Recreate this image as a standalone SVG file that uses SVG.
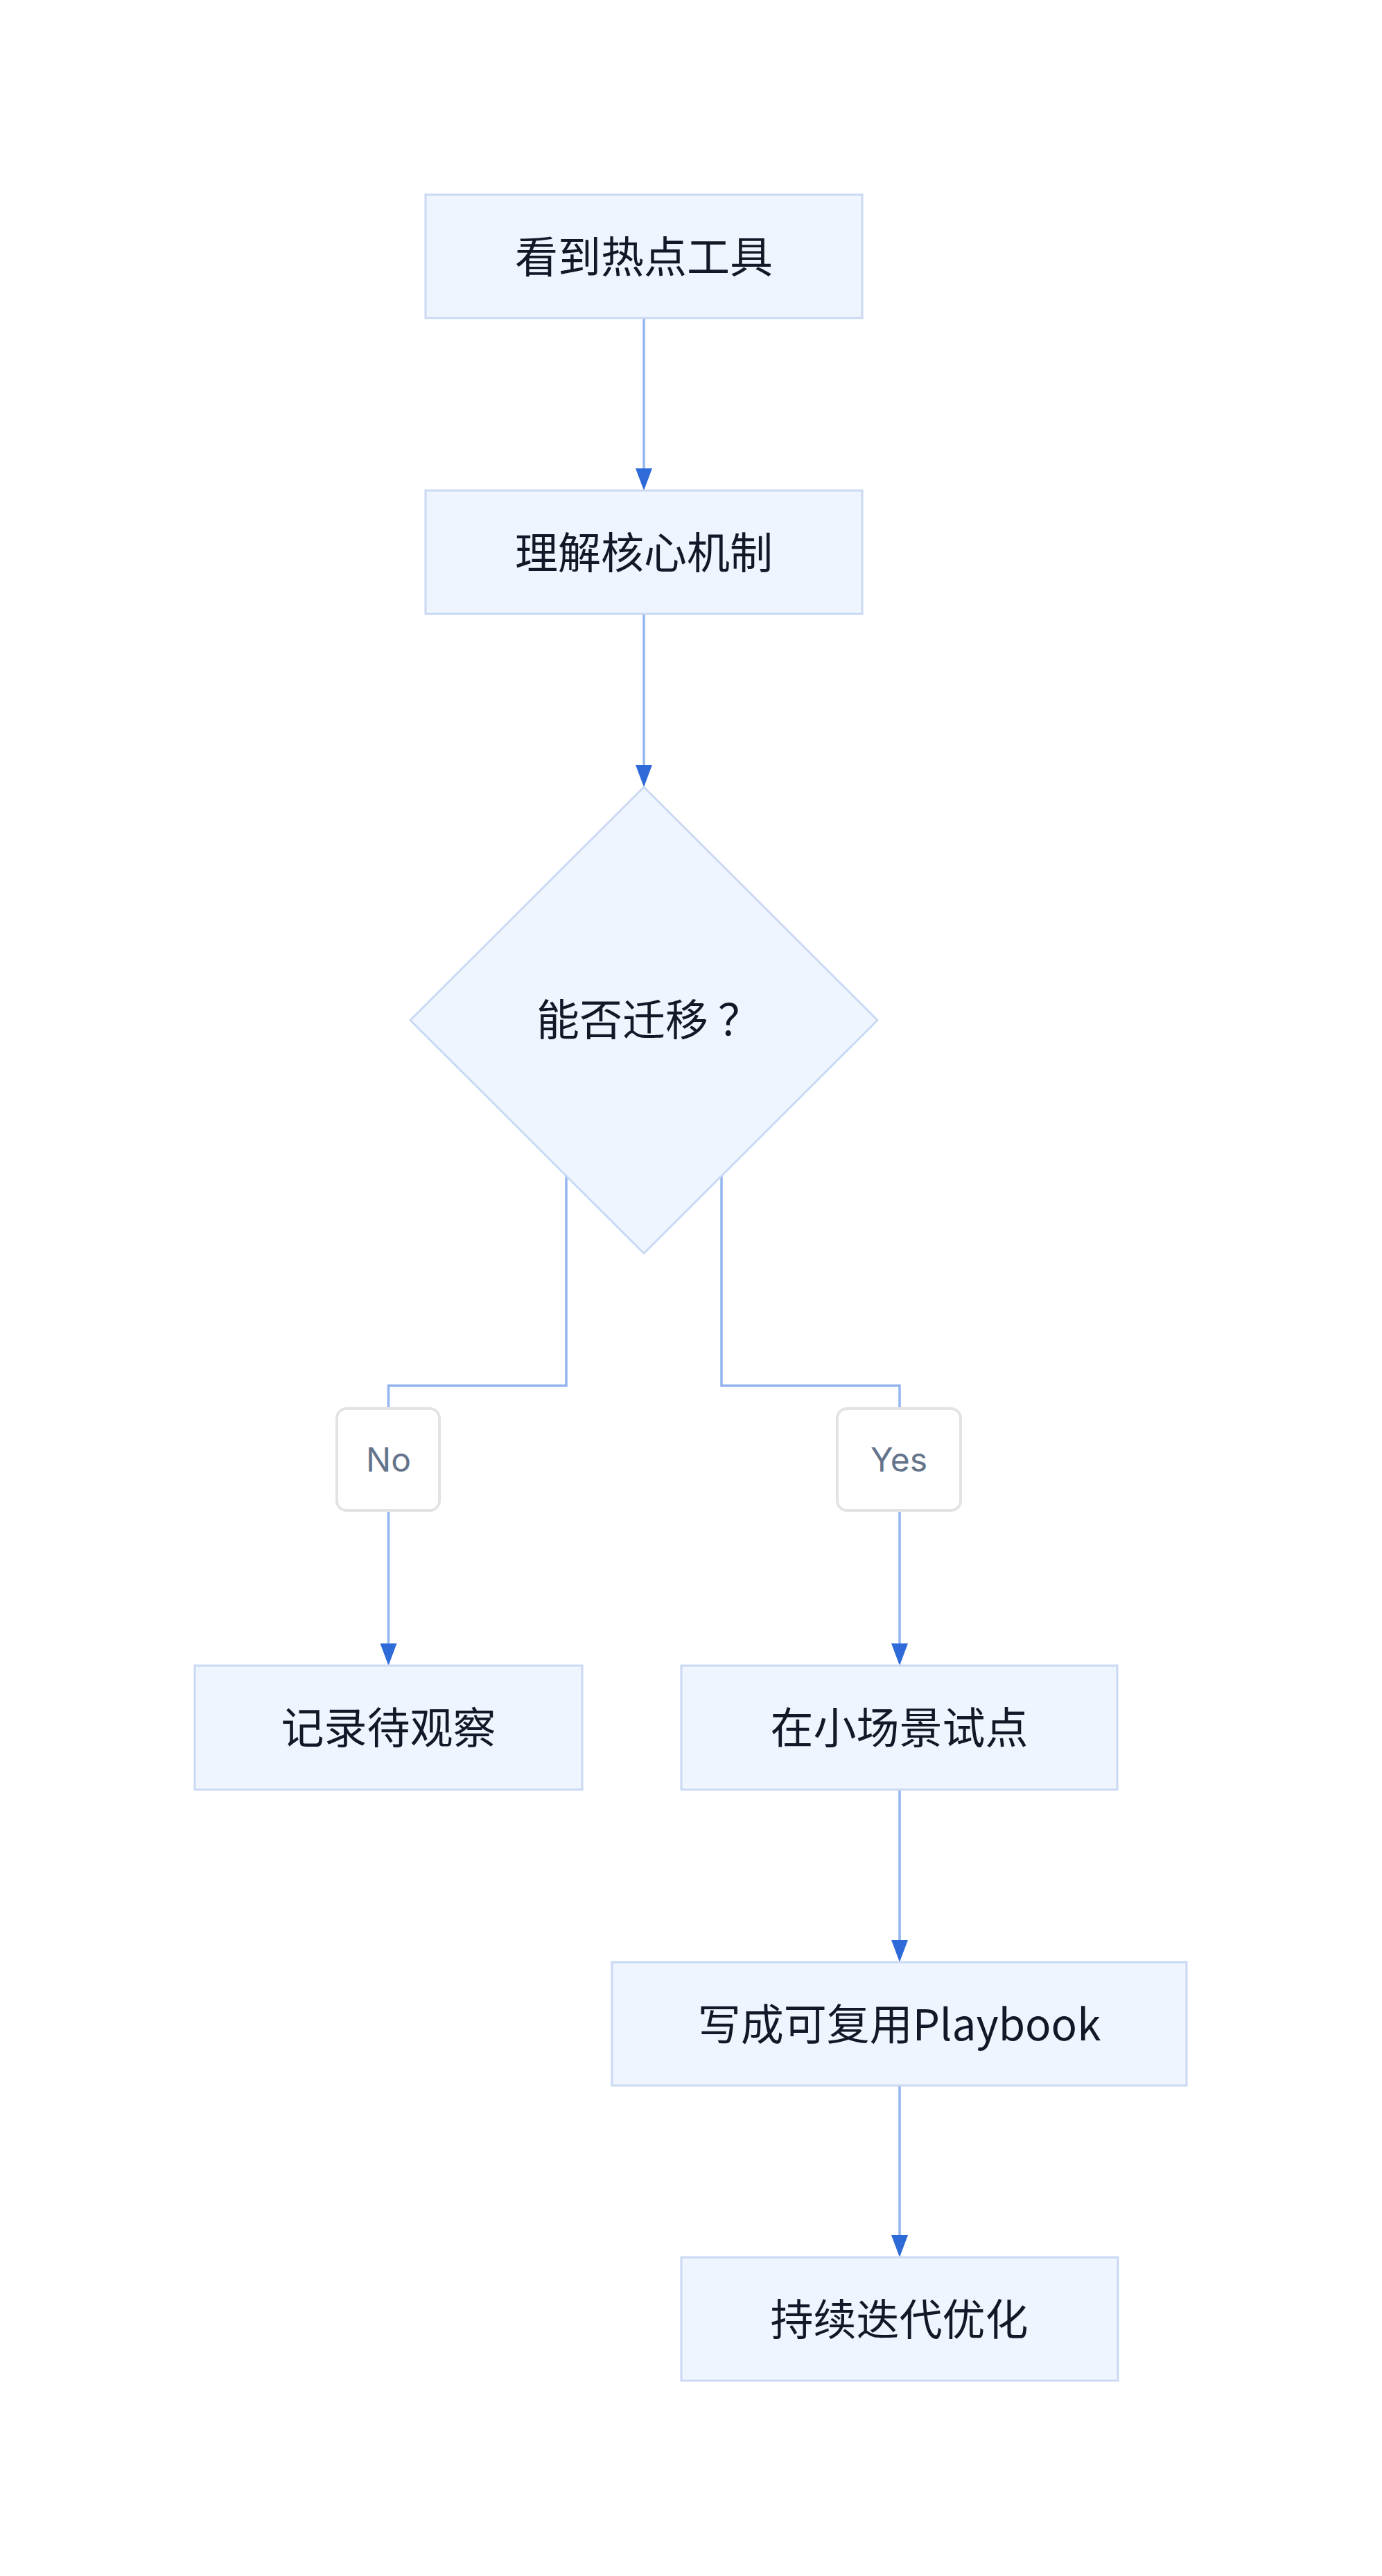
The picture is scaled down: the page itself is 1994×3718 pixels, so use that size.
<svg xmlns="http://www.w3.org/2000/svg" width="1994" height="3718" viewBox="0 0 1994 3718">
<defs>
<style>
.node rect, .node polygon { fill: #eff5fe; stroke: #cad9f3; stroke-width: 3; }
.node text { font-family: "Noto Sans CJK SC", "Inter", sans-serif; font-size: 62px; fill: #111827; text-anchor: middle; }
.edge { fill: none; stroke: #93b5ef; stroke-width: 3.5; }
.lbl rect { fill: #ffffff; stroke: #e3e3e3; stroke-width: 4; }
.lbl text { font-family: "Inter", "Liberation Sans", sans-serif; font-size: 48px; fill: #64748b; text-anchor: middle; }
</style>
<marker id="arr" viewBox="0 0 32 24" refX="0" refY="12" markerWidth="32" markerHeight="24" markerUnits="userSpaceOnUse" orient="auto">
<path d="M0,0 L32,12 L0,24 z" fill="#2f6ad9"/>
</marker>
</defs>
<rect width="1994" height="3718" fill="#ffffff"/>
<g id="connectors">
<path class="edge" d="M929 459 V676" marker-end="url(#arr)"/>
<path class="edge" d="M929 886 V1104" marker-end="url(#arr)"/>
<path class="edge" d="M817 1680 V2000 H560.5 V2372" marker-end="url(#arr)"/>
<path class="edge" d="M1041 1680 V2000 H1298 V2372" marker-end="url(#arr)"/>
<path class="edge" d="M1298 2583 V2800" marker-end="url(#arr)"/>
<path class="edge" d="M1298 3010 V3226" marker-end="url(#arr)"/>
</g>
<g id="label-no" class="lbl">
<rect x="486" y="2033" width="148" height="147" rx="14"/>
<text x="560.5" y="2124">No</text>
</g>
<g id="label-yes" class="lbl">
<rect x="1208" y="2033" width="178" height="147" rx="14"/>
<text x="1297" y="2124">Yes</text>
</g>
<g id="n1" class="node">
<rect x="614" y="281" width="630" height="178"/>
<text x="929" y="394">看到热点工具</text>
</g>
<g id="n2" class="node">
<rect x="614" y="708" width="630" height="178"/>
<text x="929" y="821">理解核心机制</text>
</g>
<g id="n3" class="node">
<polygon points="929,1136 1266,1472.5 929,1809 592,1472.5"/>
<text x="936" y="1495">能否迁移<tspan dx="14">？</tspan></text>
</g>
<g id="n4" class="node">
<rect x="281" y="2404" width="559" height="179"/>
<text x="560.5" y="2517">记录待观察</text>
</g>
<g id="n5" class="node">
<rect x="983" y="2404" width="629" height="179"/>
<text x="1297.5" y="2517">在小场景试点</text>
</g>
<g id="n6" class="node">
<rect x="883" y="2832" width="829" height="178"/>
<text x="1297.5" y="2945">写成可复用Playbook</text>
</g>
<g id="n7" class="node">
<rect x="983" y="3258" width="630" height="178"/>
<text x="1297.5" y="3371">持续迭代优化</text>
</g>
</svg>
